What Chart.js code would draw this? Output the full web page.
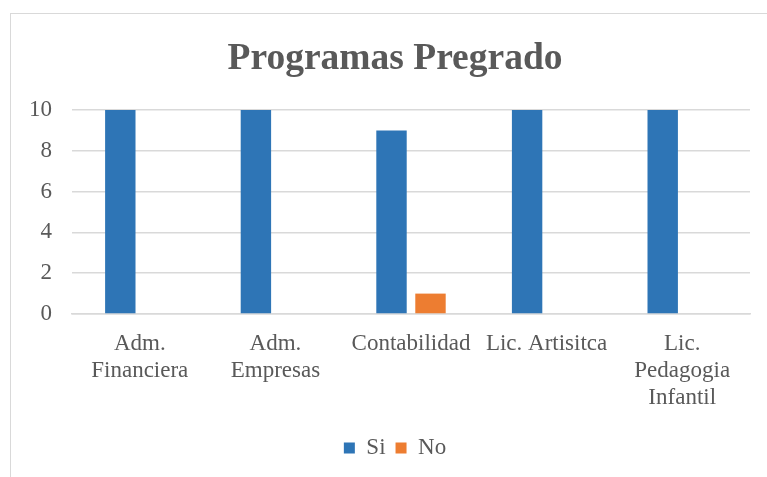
<!DOCTYPE html>
<html>
<head>
<meta charset="utf-8">
<script src="https://cdn.jsdelivr.net/npm/chart.js@4"></script>
<style>
  html, body { margin: 0; padding: 0; background: #fff; overflow: hidden; }
  .frame {
    position: absolute; left: 10px; top: 13px;
    width: 772px; height: 480px;
    border: 1px solid #d9d9d9; box-sizing: border-box;
  }
  canvas { display: block; }
</style>
</head>
<body>
<div class="frame"><canvas id="chart" width="768" height="478"></canvas></div>
<script>
const categories = [["Adm.", "Financiera"], ["Adm.", "Empresas"], "Contabilidad", "Lic. Artisitca", ["Lic.", "Pedagogia", "Infantil"]];
const siValues = [10, 10, 9, 10, 10];
const noValues = [0, 0, 1, 0, 0];
const yTicks = [0, 2, 4, 6, 8, 10];

const textColor = "#595959";
const serif = "'Liberation Serif', 'Times New Roman', serif";

const ctx = document.getElementById("chart").getContext("2d");
new Chart(ctx, {
  type: "bar",
  data: {
    labels: categories,
    datasets: [
      { label: "Si", data: siValues, backgroundColor: "#2e75b6" },
      { label: "No", data: noValues, backgroundColor: "#ed7d31" }
    ]
  },
  options: {
    responsive: false,
    animation: false,
    datasets: { bar: { categoryPercentage: 0.575, barPercentage: 0.78 } },
    layout: { padding: { top: 8, left: 0, right: 0, bottom: 22.5 } },
    plugins: {
      title: {
        display: true,
        text: "Programas Pregrado",
        color: textColor,
        font: { family: serif, size: 37.5, weight: "bold" },
        padding: { top: 15, bottom: 28 }
      },
      legend: {
        position: "bottom",
        labels: {
          color: textColor,
          font: { family: serif, size: 23 },
          boxWidth: 11, boxHeight: 11, padding: 10
        }
      },
      tooltip: { enabled: false }
    },
    scales: {
      x: {
        grid: { display: false, drawTicks: false },
        border: { color: "#d9d9d9", width: 1.5 },
        ticks: {
          color: textColor, padding: 16, maxRotation: 0, autoSkip: false,
          font: { family: serif, size: 23, lineHeight: "27px" }
        },
        afterFit: s => { s.height = 112.5; }
      },
      y: {
        min: 0, max: 10,
        afterBuildTicks: s => { s.ticks = yTicks.map(v => ({ value: v })); },
        grid: { color: "#d9d9d9", lineWidth: 1.5, drawTicks: false },
        border: { display: false },
        ticks: { color: textColor, padding: 20, font: { family: serif, size: 23 } },
        afterFit: s => { s.width = 61; }
      },
      // empty right margin so the plot stops where the reference does
      spacer: {
        type: "linear", position: "right",
        grid: { display: false, drawTicks: false },
        border: { display: false },
        ticks: { display: false },
        afterFit: s => { s.width = 29; }
      }
    }
  }
});
</script>
</body>
</html>
